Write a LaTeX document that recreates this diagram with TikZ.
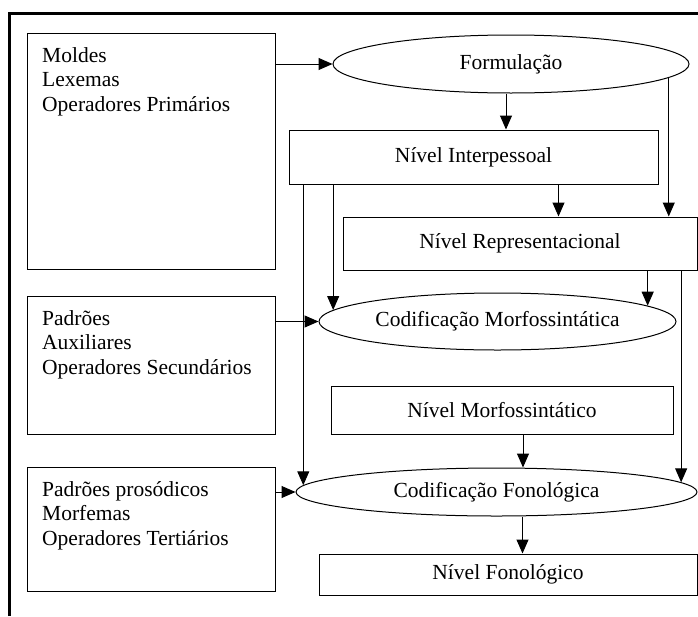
\documentclass[tikz,border=0pt]{standalone}
\usepackage{fontspec}
\setmainfont{Liberation Serif}
\usetikzlibrary{shapes.geometric,arrows.meta}

\begin{document}
\begin{tikzpicture}[x=1pt,y=-1pt,>={Triangle[length=14pt,width=12pt]},
  every node/.style={font=\fontsize{21.5pt}{24.5pt}\selectfont},
  caixa/.style={draw,line width=1pt,rectangle,inner sep=0pt},
  elipse/.style={draw,line width=1pt,ellipse,inner sep=0pt},
  lista/.style={anchor=north west,align=left,inner sep=0pt},
  seta/.style={line width=1pt,->}]
 \useasboundingbox (0,0) rectangle (698,616);
 \draw[line width=3pt] (9,616)--(9,13)--(698,13); %moldura

 \node[caixa,minimum width=248pt,minimum height=236pt] (mol) at (151,151) {}; %caixa 1
 \node[lista] (moltxt) at (42,47) {Moldes\\Lexemas\\Operadores Primários};
 \node[caixa,minimum width=248pt,minimum height=138pt] (aux) at (151,365) {}; %caixa 2
 \node[lista] (auxtxt) at (42,310) {Padrões\\Auxiliares\\Operadores Secundários};
 \node[caixa,minimum width=248pt,minimum height=124pt] (mor) at (151,529) {}; %caixa 3
 \node[lista] (mortxt) at (42,481) {Padrões prosódicos\\Morfemas\\Operadores Tertiários};

 \node[elipse,minimum width=356pt,minimum height=58pt] (form) at (511,64) {Formulação};
 \node[caixa,minimum width=369pt,minimum height=54pt] (inter) at (473.5,157) {Nível Interpessoal};
 \node[caixa,minimum width=354pt,minimum height=53pt] (repr) at (520,243.5) {Nível Representacional};
 \node[elipse,minimum width=357pt,minimum height=57pt] (cm) at (497.5,321.5) {Codificação Morfossintática};
 \node[caixa,minimum width=342pt,minimum height=48pt] (nm) at (502,410) {Nível Morfossintático};
 \node[elipse,minimum width=401pt,minimum height=48pt] (cf) at (496.5,492) {Codificação Fonológica};
 \node[caixa,minimum width=378pt,minimum height=41pt] (nf) at (508,574.5) {Nível Fonológico};

 \draw[seta] (mol.east |- form) -- (form.west);
 \draw[seta] ([xshift=-5pt]form.south) -- ([xshift=-5pt]form.south |- inter.north);
 \draw[seta] (form.-5) -- (form.-5 |- repr.north);
 \draw[seta] ([xshift=85pt]inter.south) -- ([xshift=85pt]inter.south |- repr.north);
 \draw[seta] (cm.176 |- inter.south) -- (cm.176);
 \draw[seta] (cf.178 |- inter.south) -- (cf.178);
 \draw[seta] (cm.6 |- repr.south) -- (cm.6);
 \draw[seta] (cf.3 |- repr.south) -- (cf.3);
 \draw[seta] (aux.east |- cm) -- (cm.west);
 \draw[seta] ([xshift=21pt]nm.south) -- ([xshift=21pt]nm.south |- cf.north);
 \draw[seta] ([xshift=26pt]cf.south) -- ([xshift=26pt]cf.south |- nf.north);
 \draw[seta] (mor.east |- cf) -- (cf.west);
\end{tikzpicture}
\end{document}
